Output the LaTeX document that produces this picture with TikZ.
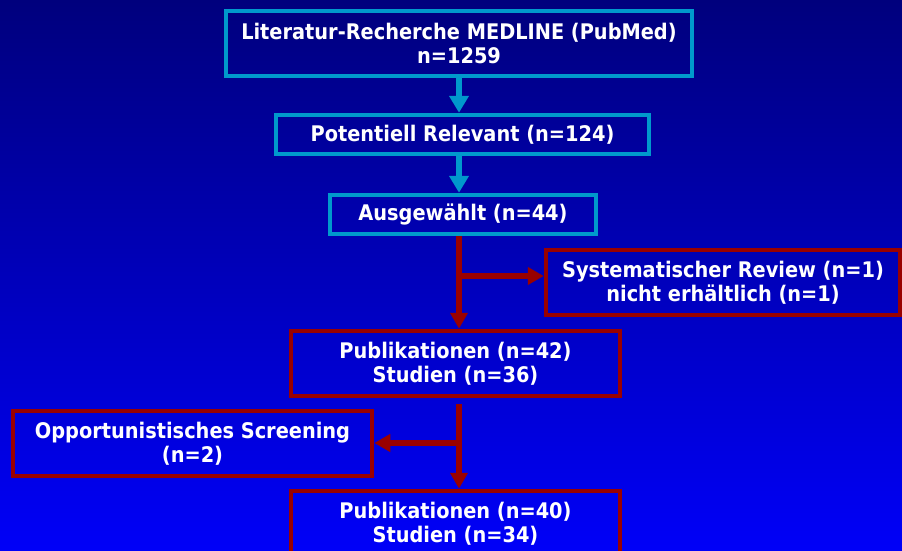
\documentclass[tikz,border=0pt]{standalone}
\usepackage{fontspec}
\setmainfont{DejaVu Sans Condensed}[BoldFont=DejaVu Sans Condensed Bold]
\usetikzlibrary{arrows.meta}
\definecolor{framecyan}{RGB}{0,153,204}
\definecolor{framered}{RGB}{153,0,0}
\definecolor{bgtop}{RGB}{0,0,125}
\definecolor{bgbot}{RGB}{0,0,248}
\tikzset{
  box/.style={draw, line width=4.5pt, align=center, text=white,
    font=\fontsize{21.5}{24}\selectfont\bfseries, inner sep=0pt},
  cyanbox/.style={box, draw=framecyan},
  redbox/.style={box, draw=framered},
  cyanflow/.style={draw=framecyan, line width=6pt,
    -{Triangle[width=19pt,length=17pt]}},
  redflow/.style={draw=framered, line width=5.5pt,
    -{Triangle[width=17pt,length=16pt]}},
}
\begin{document}
\begin{tikzpicture}[x=1pt,y=-1pt]
  % background
  \shade[top color=bgtop, bottom color=bgbot] (0,0) rectangle (902,551);
  \useasboundingbox (0,0) rectangle (902,551);

  % boxes
  \node[cyanbox, minimum width=466pt, minimum height=65pt] (b1) at (459,43.5)
    {Literatur-Recherche MEDLINE (PubMed)\\n=1259};
  \node[cyanbox, minimum width=373pt, minimum height=39pt] (b2) at (462.5,134.5)
    {Potentiell Relevant (n=124)};
  \node[cyanbox, minimum width=266pt, minimum height=39pt] (b3) at (463,214.5)
    {Ausgewählt (n=44)};
  \node[redbox, minimum width=354pt, minimum height=65pt] (b5) at (723,282.5)
    {Systematischer Review (n=1)\\nicht erhältlich (n=1)};
  \node[redbox, minimum width=329pt, minimum height=65pt] (b4) at (455.5,363.5)
    {Publikationen (n=42)\\Studien (n=36)};
  \node[redbox, minimum width=359pt, minimum height=65pt] (b7) at (192.5,443.5)
    {Opportunistisches Screening\\(n=2)};
  \node[redbox, minimum width=329pt, minimum height=65pt] (b6) at (455.5,523.5)
    {Publikationen (n=40)\\Studien (n=34)};

  % spine of the flow
  \coordinate (sp) at (459,0);
  \coordinate (j1) at (459,276);
  \coordinate (j2) at (459,443);

  % connectors
  \draw[cyanflow] (b1.south -| sp) -- (sp |- b2.north);
  \draw[cyanflow] (b2.south -| sp) -- (sp |- b3.north);
  \draw[redflow] (b3.south -| sp) -- (sp |- b4.north);
  \draw[redflow] (j1) -- (j1 -| b5.west);
  \draw[redflow] ([yshift=-6pt]b4.south -| sp) -- (sp |- b6.north);
  \draw[redflow] (j2) -- (j2 -| b7.east);
\end{tikzpicture}
\end{document}
